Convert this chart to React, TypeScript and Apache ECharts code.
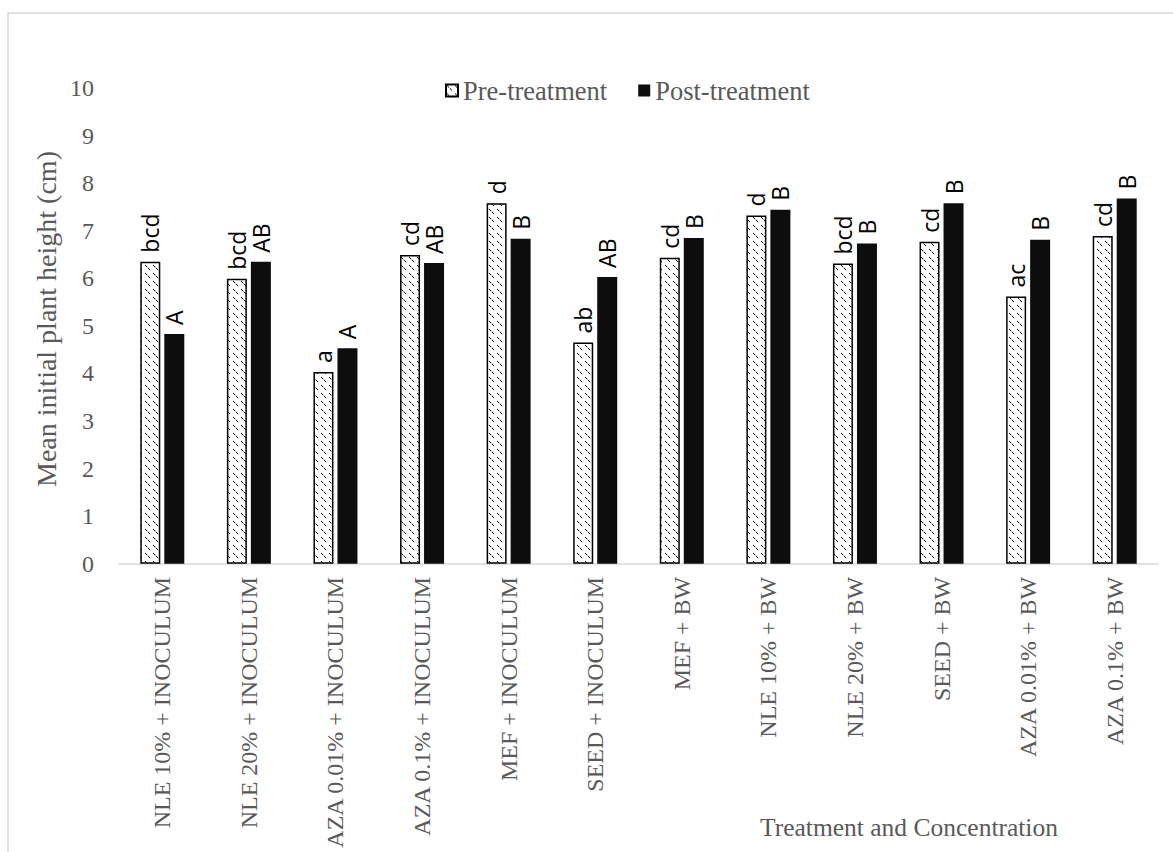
import React, { useEffect, useRef } from "react";
import * as echarts from "echarts";

const categories = [
  "NLE 10% + INOCULUM",
  "NLE 20% + INOCULUM",
  "AZA 0.01% + INOCULUM",
  "AZA 0.1% + INOCULUM",
  "MEF + INOCULUM",
  "SEED + INOCULUM",
  "MEF + BW",
  "NLE 10% + BW",
  "NLE 20% + BW",
  "SEED + BW",
  "AZA 0.01% + BW",
  "AZA 0.1% + BW",
];
const seriesNames = ["Pre-treatment", "Post-treatment"];
const preValues = [6.35, 5.99, 4.03, 6.49, 7.58, 4.65, 6.43, 7.32, 6.31, 6.77, 5.62, 6.89];
const postValues = [4.83, 6.35, 4.53, 6.32, 6.83, 6.03, 6.85, 7.44, 6.73, 7.58, 6.81, 7.68];
const preLetters = ["bcd", "bcd", "a", "cd", "d", "ab", "cd", "d", "bcd", "cd", "ac", "cd"];
const postLetters = ["A", "AB", "A", "AB", "B", "AB", "B", "B", "B", "B", "B", "B"];
const yAxisTitle = "Mean initial plant height (cm)";
const xAxisTitle = "Treatment and Concentration";

function makeHatch(): HTMLCanvasElement {
  const c = document.createElement("canvas");
  c.width = 8;
  c.height = 8;
  const ctx = c.getContext("2d")!;
  ctx.fillStyle = "#ffffff";
  ctx.fillRect(0, 0, 8, 8);
  ctx.fillStyle = "#000000";
  [1, 2, 4, 5].forEach((i) => ctx.fillRect(i, i, 1, 1));
  ctx.fillStyle = "#999999";
  [3].forEach((i) => ctx.fillRect(i, i, 1, 1));
  return c;
}

export default function App() {
  const ref = useRef<HTMLDivElement>(null);
  useEffect(() => {
    if (!ref.current) return;
    const chart = echarts.init(ref.current, null, { renderer: "svg" });
    const serif = "'Liberation Serif', 'Times New Roman', serif";
    const sans = "'Open Sans', 'Liberation Sans', sans-serif";
    const hatch = makeHatch();
    const labelBase = {
      show: true,
      position: "top" as const,
      distance: 9,
      rotate: 90,
      align: "left" as const,
      verticalAlign: "middle" as const,
      fontFamily: sans,
      fontSize: 23,
      color: "#000000",
    };
    chart.setOption({
      animation: false,
      backgroundColor: "#ffffff",
      grid: { left: 119, right: 15, top: 88, bottom: 288, containLabel: false },
      legend: {
        data: seriesNames,
        left: 440,
        top: 72,
        icon: "rect",
        itemWidth: 12,
        itemHeight: 12,
        itemGap: 31,
        textStyle: { fontFamily: serif, fontSize: 26.5, color: "#595959" },
      },
      xAxis: {
        type: "category",
        data: categories,
        axisLine: { lineStyle: { color: "#d9d9d9", width: 1.5 } },
        axisTick: { show: false },
        axisLabel: {
          rotate: 90,
          interval: 0,
          margin: 13,
          fontFamily: serif,
          fontSize: 24,
          color: "#595959",
        },
      },
      yAxis: {
        type: "value",
        min: 0,
        max: 10,
        interval: 1,
        axisLine: { show: false },
        axisTick: { show: false },
        splitLine: { show: false },
        axisLabel: { margin: 25, fontFamily: serif, fontSize: 24, color: "#595959" },
      },
      series: [
        {
          name: seriesNames[0],
          type: "bar",
          data: preValues,
          barWidth: 20,
          barGap: "20%",
          itemStyle: {
            color: { image: hatch, repeat: "repeat" },
            borderColor: "#000000",
            borderWidth: 1.5,
          },
          label: { ...labelBase, formatter: (p: any) => preLetters[p.dataIndex] },
        },
        {
          name: seriesNames[1],
          type: "bar",
          data: postValues,
          barWidth: 20,
          barGap: "20%",
          itemStyle: { color: "#0d0d0d" },
          label: { ...labelBase, formatter: (p: any) => postLetters[p.dataIndex] },
        },
      ],
      graphic: [
        {
          type: "rect",
          shape: { x: 8, y: 13, width: 1300, height: 1000 },
          style: { fill: "none", stroke: "#d9d9d9", lineWidth: 1.5 },
          silent: true,
        },
        {
          type: "text",
          x: 46,
          y: 319,
          rotation: Math.PI / 2,
          style: {
            text: yAxisTitle,
            fontFamily: serif,
            fontSize: 28,
            fill: "#595959",
            align: "center",
            verticalAlign: "middle",
          },
        },
        {
          type: "text",
          x: 909,
          y: 827,
          style: {
            text: xAxisTitle,
            fontFamily: serif,
            fontSize: 25.5,
            fill: "#595959",
            align: "center",
            verticalAlign: "middle",
          },
        },
      ],
    });
    return () => chart.dispose();
  }, []);
  return (
    <div
      ref={ref}
      style={{ position: "absolute", left: 0, top: 0, width: 1173, height: 852 }}
    />
  );
}
